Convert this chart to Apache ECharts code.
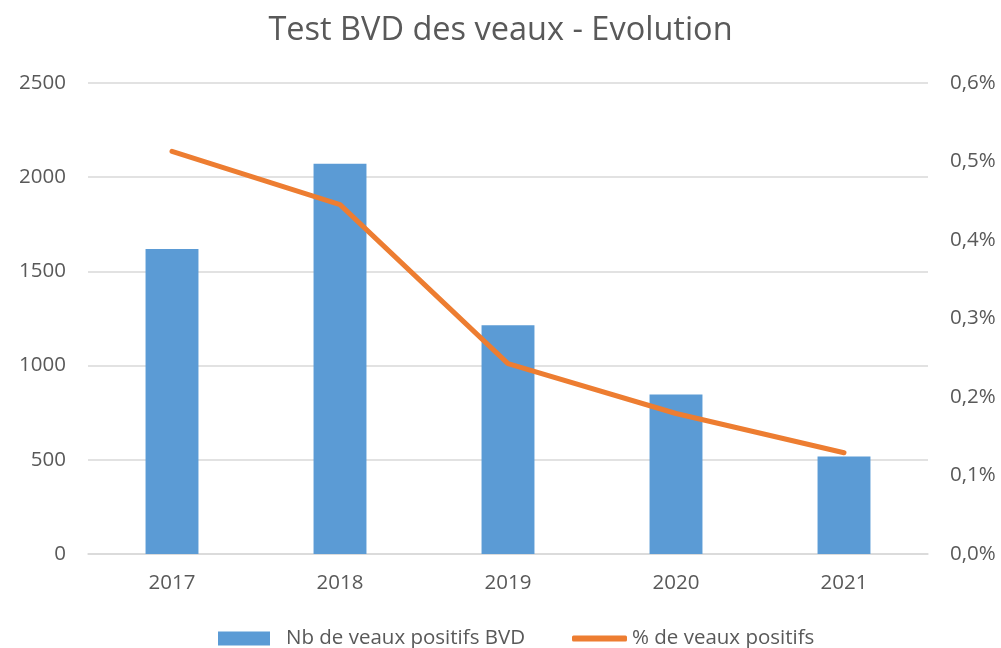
<!DOCTYPE html>
<html>
<head>
<meta charset="utf-8">
<script src="https://cdn.jsdelivr.net/npm/echarts@6/dist/echarts.min.js"></script>
<style>html,body{margin:0;padding:0;background:#fff}#c{width:1001px;height:648px}</style>
</head>
<body>
<div id="c"></div>
<script>
const categories = ['2017', '2018', '2019', '2020', '2021'];
const nbPositifs = [1619, 2072, 1214, 846, 518];
const pctPositifs = [0.513, 0.445, 0.2425, 0.179, 0.129];
const seriesNames = ['Nb de veaux positifs BVD', '% de veaux positifs'];
const titleText = 'Test BVD des veaux - Evolution';

const FONT = 'Open Sans';
const GREY = '#595959';
const LBL = 20.5;
const chart = echarts.init(document.getElementById('c'), null, {renderer: 'canvas'});
chart.setOption({
  animation: false,
  backgroundColor: '#fff',
  title: {
    text: titleText, left: 'center', top: 9,
    textStyle: {fontFamily: FONT, fontSize: 32.5, fontWeight: 'normal', color: GREY}
  },
  legend: [
    {data: [{name: seriesNames[0], icon: 'rect'}], left: 213, top: 623, itemWidth: 52, itemHeight: 14, itemGap: 0,
     textStyle: {fontFamily: FONT, fontSize: LBL, color: GREY, padding: [0, 0, 0, 11]}},
    {data: [{name: seriesNames[1], icon: 'roundRect'}], left: 567, top: 623, itemWidth: 55, itemHeight: 6, itemGap: 0,
     textStyle: {fontFamily: FONT, fontSize: LBL, color: GREY, padding: [0, 0, 0, 0]}}
  ],
  grid: {left: 88, right: 73, top: 83, bottom: 94, containLabel: false},
  xAxis: {
    type: 'category', data: categories,
    axisLine: {lineStyle: {color: '#D9D9D9', width: 1.5}},
    axisTick: {show: false},
    axisLabel: {fontFamily: FONT, fontSize: LBL, color: GREY, margin: 19}
  },
  yAxis: [
    {type: 'value', min: 0, max: 2500, interval: 500,
     axisLine: {show: false}, axisTick: {show: false},
     splitLine: {lineStyle: {color: '#D9D9D9', width: 1.5}},
     axisLabel: {fontFamily: FONT, fontSize: LBL, color: GREY, margin: 22, formatter: v => String(v)}},
    {type: 'value', min: 0, max: 0.6, interval: 0.1, position: 'right',
     axisLine: {show: false}, axisTick: {show: false}, splitLine: {show: false},
     axisLabel: {fontFamily: FONT, fontSize: LBL, color: GREY, margin: 22,
       formatter: v => v.toFixed(1).replace('.', ',') + '%'}}
  ],
  series: [
    {name: seriesNames[0], type: 'bar', data: nbPositifs, barWidth: '31.5%',
     itemStyle: {color: '#5B9BD5'}},
    {name: seriesNames[1], type: 'line', yAxisIndex: 1, data: pctPositifs,
     symbol: 'none', lineStyle: {color: '#ED7D31', width: 5, cap: 'round', join: 'round'},
     itemStyle: {color: '#ED7D31'}}
  ]
});
</script>
</body>
</html>
